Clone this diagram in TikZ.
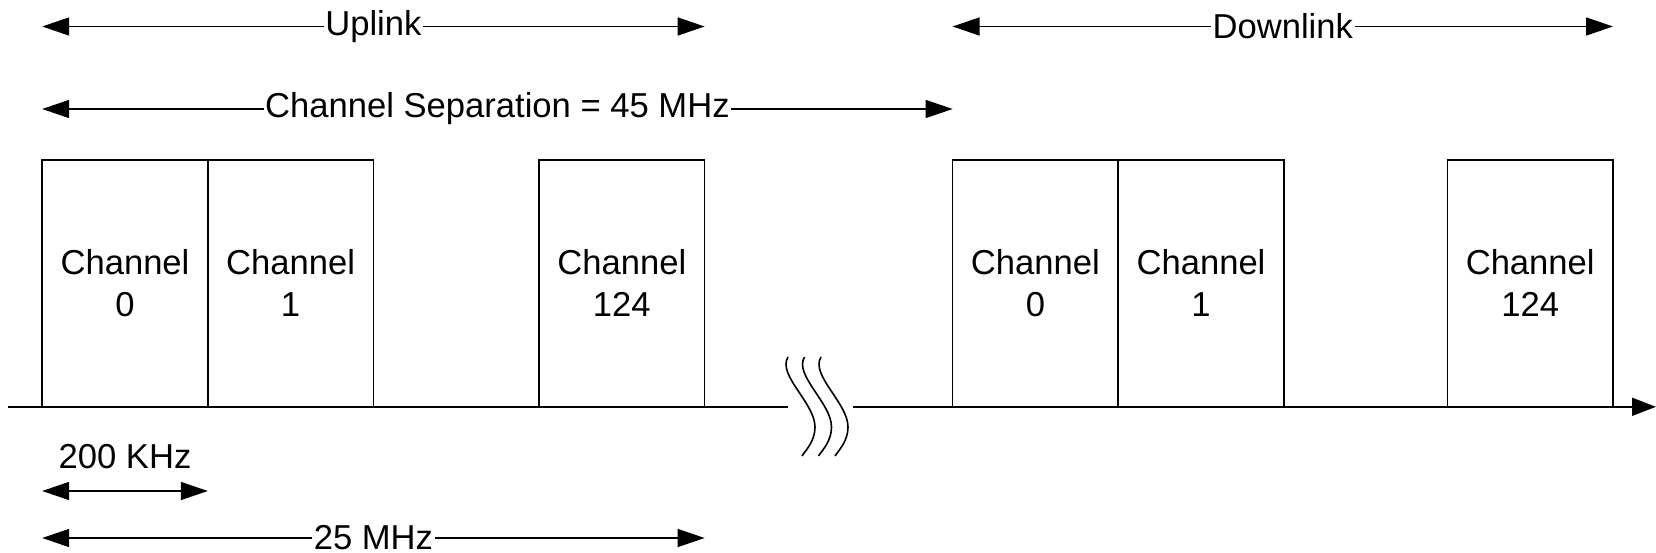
\documentclass[tikz,border=0pt]{standalone}
\usepackage{fontspec}
\setmainfont{Liberation Sans}
\usetikzlibrary{arrows.meta, positioning}

\begin{document}
\begin{tikzpicture}[x=1pt, y=-1pt, line width=1.6pt,
    font=\fontsize{34.6}{42}\selectfont,
    node distance=0pt,
    chan/.style={draw, minimum width=165.6pt, minimum height=247pt,
      align=center, inner sep=0pt, outer sep=0pt},
    dimline/.style={{Triangle[length=27pt, width=18pt]}-{Triangle[length=27pt, width=18pt]}},
    dimlabel/.style={fill=white, inner sep=1.5pt}]

  \useasboundingbox (0,0) rectangle (1656,553);

  % uplink band
  \node[chan, anchor=south west] (u0) at (42.2,406.8) {Channel\\0};
  \node[chan, right=of u0] (u1) {Channel\\1};
  \node[chan, right=165.6pt of u1] (u124) {Channel\\124};

  % downlink band
  \node[chan, right=248pt of u124] (d0) {Channel\\0};
  \node[chan, right=of d0] (d1) {Channel\\1};
  \node[chan, right=163.6pt of d1] (d124) {Channel\\124};

  % frequency axis with break
  \coordinate (axL) at (8,406.8);
  \coordinate (brkL) at (788,406.8);
  \coordinate (brkR) at (853,406.8);
  \coordinate (axR) at (1656,406.8);
  \draw (axL) -- (brkL);
  \draw[-{Triangle[length=24pt, width=18pt]}] (brkR) -- (axR);
  \foreach \dx in {0,16.5,33}
    \draw[xshift=\dx pt] (788,357) .. controls (777,375) and (815,403) .. (815,427)
      .. controls (815,441) and (806,450) .. (802,456);

  % dimension lines
  \coordinate (upL) at (u0.west |- 0,26.5);
  \coordinate (upR) at (u124.east |- 0,26.5);
  \coordinate (sepL) at (u0.west |- 0,109);
  \coordinate (sepR) at (d0.west |- 0,109);
  \coordinate (dnL) at (d0.west |- 0,26.5);
  \coordinate (dnR) at (d124.east |- 0,26.5);
  \coordinate (khzL) at (u0.west |- 0,491);
  \coordinate (khzR) at (u1.west |- 0,491);
  \coordinate (mhzL) at (u0.west |- 0,538);
  \coordinate (mhzR) at (u124.east |- 0,538);

  \draw[dimline] (upL) -- node[dimlabel] (uplbl) {Uplink} (upR);
  \draw[dimline] (sepL) -- node[dimlabel] (seplbl) {Channel Separation = 45 MHz} (sepR);
  \draw[dimline] (dnL) -- node[dimlabel] (dnlbl) {Downlink} (dnR);
  \draw[dimline] (khzL) -- node[above=20pt, inner sep=1pt] (khzlbl) {200 KHz} (khzR);
  \draw[dimline] (mhzL) -- node[dimlabel] (mhzlbl) {25 MHz} (mhzR);
\end{tikzpicture}
\end{document}
